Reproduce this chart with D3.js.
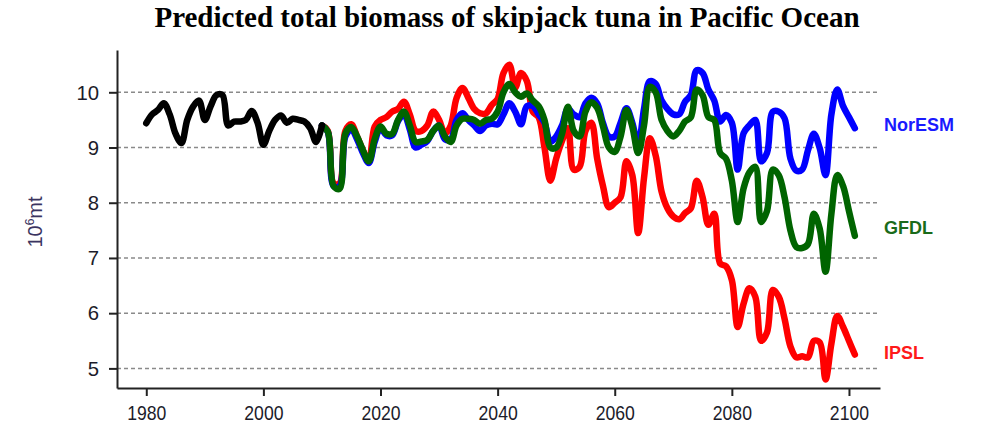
<!DOCTYPE html>
<html><head><meta charset="utf-8">
<script src="https://cdn.jsdelivr.net/npm/d3@7"></script>
<style>body{margin:0;background:#fff;} svg{display:block;}</style>
</head><body><svg id="chart" width="982" height="434"></svg>
<script>
// ---- data ----
const histYears = d3.range(1980, 2011);
const histValues = [9.44,9.6,9.68,9.8,9.6,9.25,9.08,9.5,9.74,9.85,
  9.5,9.75,9.95,9.95,9.4,9.47,9.47,9.5,9.66,9.45,
  9.05,9.3,9.5,9.58,9.45,9.52,9.5,9.47,9.35,9.1,9.4];
const projYears = d3.range(2010, 2102);
const norESM = [9.4,9.28,8.3,8.3,9.2,9.33,9.15,8.9,8.72,9.1,
  9.35,9.22,9.22,9.48,9.6,9.33,9.0,9.05,9.12,9.3,
  9.4,9.15,9.15,9.5,9.62,9.5,9.4,9.3,9.4,9.43,
  9.42,9.6,9.8,9.65,9.42,9.75,9.75,9.6,9.45,9.1,
  9.2,9.4,9.7,9.6,9.55,9.8,9.9,9.8,9.44,9.2,
  9.2,9.45,9.71,9.45,9.05,9.7,10.2,10.15,9.85,9.7,
  9.6,9.6,9.83,9.95,10.4,10.35,10.05,9.85,9.47,9.59,
  9.45,8.6,9.26,9.4,9.5,8.75,8.9,9.65,9.65,9.53,
  8.8,8.58,8.6,8.95,9.25,8.99,8.5,9.6,10.05,9.75,
  9.55,9.35];
const gfdl = [9.4,9.29,8.3,8.25,9.25,9.37,9.2,8.95,8.75,9.15,
  9.38,9.25,9.25,9.5,9.65,9.4,9.1,9.11,9.14,9.3,
  9.4,9.2,9.1,9.4,9.52,9.52,9.5,9.43,9.5,9.52,
  9.65,10.0,10.15,10.0,9.92,9.98,9.85,9.75,9.5,9.0,
  9.0,9.25,9.74,9.3,9.2,9.65,9.82,9.72,9.38,9.0,
  8.92,9.2,9.68,9.38,8.9,9.4,10.1,10.0,9.5,9.3,
  9.2,9.3,9.47,9.55,10.05,9.95,9.55,9.5,8.9,8.8,
  8.4,7.65,8.26,8.55,8.65,7.65,7.85,8.6,8.5,8.1,
  7.5,7.2,7.18,7.25,7.8,7.53,6.75,7.8,8.5,8.3,
  7.85,7.4];
const ipsl = [9.4,9.3,8.35,8.35,9.3,9.42,9.2,8.95,8.75,9.38,
  9.5,9.55,9.65,9.7,9.83,9.6,9.3,9.3,9.4,9.65,
  9.5,9.25,9.4,9.9,10.08,9.9,9.7,9.62,9.62,9.77,
  9.88,10.35,10.5,10.08,10.35,10.2,9.65,9.55,9.0,8.4,
  8.8,9.12,9.35,8.6,8.65,9.3,9.45,8.8,8.3,7.92,
  8.0,8.1,8.75,8.5,7.45,8.45,9.17,8.85,8.2,7.9,
  7.75,7.7,7.81,7.9,8.4,8.1,7.6,7.8,6.9,6.85,
  6.6,5.75,6.17,6.45,6.3,5.5,5.65,6.42,6.3,5.9,
  5.4,5.2,5.22,5.2,5.5,5.47,4.8,5.45,5.95,5.75,
  5.5,5.25];
const seriesNames = ["IPSL", "NorESM", "GFDL"];
const seriesValues = [ipsl, norESM, gfdl];
const seriesColors = ["#ff0000", "#0000ff", "#006400"];
const labelColors = {NorESM: "#1a1aff", GFDL: "#1a6b1a", IPSL: "#ff1a1a"};
const labelValues = {NorESM: 9.42, GFDL: 7.55, IPSL: 5.28};
const xTicks = [1980, 2000, 2020, 2040, 2060, 2080, 2100];
const yTicks = [5, 6, 7, 8, 9, 10];
const titleText = "Predicted total biomass of skipjack tuna in Pacific Ocean";

// ---- layout ----
const svg = d3.select("#chart");
const mLeft = 117, mRight = 880, mTop = 50, mBottom = 388;
const x = d3.scaleLinear().domain([1975, 2105.3]).range([mLeft, mRight]);
const y = d3.scaleLinear().domain([4.645, 10.766]).range([mBottom, mTop]);

// gridlines
svg.append("g").selectAll("line").data(yTicks).join("line")
  .attr("x1", mLeft).attr("x2", mRight)
  .attr("y1", d => y(d)).attr("y2", d => y(d))
  .attr("stroke", "#8a8a8a").attr("stroke-width", 1.5)
  .attr("stroke-dasharray", "4,3");

// lines
const line = d3.line().curve(d3.curveCatmullRom.alpha(0.5))
  .x(d => x(d[0])).y(d => y(d[1]));
seriesValues.forEach((vals, i) => {
  svg.append("path")
    .datum(projYears.map((yr, j) => [yr, vals[j]]))
    .attr("d", line)
    .attr("fill", "none").attr("stroke", seriesColors[i])
    .attr("stroke-width", 6.5).attr("stroke-linejoin", "round").attr("stroke-linecap", "round");
});
svg.append("path")
  .datum(histYears.map((yr, j) => [yr, histValues[j]]))
  .attr("d", line)
  .attr("fill", "none").attr("stroke", "#000")
  .attr("stroke-width", 6.5).attr("stroke-linejoin", "round").attr("stroke-linecap", "round");

// axes
const fontFam = "'Liberation Sans', Arial, sans-serif";
const xAxis = svg.append("g").attr("transform", `translate(0,${mBottom})`)
  .call(d3.axisBottom(x).tickValues(xTicks).tickFormat(d3.format("d"))
    .tickSize(8).tickSizeOuter(0).tickPadding(9));
const yAxis = svg.append("g").attr("transform", `translate(${mLeft},0)`)
  .call(d3.axisLeft(y).tickValues(yTicks).tickFormat(d3.format("d"))
    .tickSize(8).tickSizeOuter(0).tickPadding(10));
[xAxis, yAxis].forEach(g => {
  g.select(".domain").attr("stroke", "#222").attr("stroke-width", 2);
  g.selectAll(".tick line").attr("stroke", "#222").attr("stroke-width", 2);
  g.selectAll(".tick text").attr("fill", "#1c1c2a")
    .style("font-family", fontFam).style("font-size", "21px");
});
xAxis.selectAll(".tick text")
  .attr("textLength", d => String(d).length * 9.8).attr("lengthAdjust", "spacingAndGlyphs");
yAxis.selectAll(".tick text")
  .attr("textLength", d => String(d).length * 11.3).attr("lengthAdjust", "spacingAndGlyphs");

// y label
const yl = svg.append("text")
  .attr("transform", "translate(42,222) rotate(-90)")
  .attr("text-anchor", "middle")
  .attr("fill", "#3a3460")
  .style("font-family", fontFam).style("font-size", "20px");
yl.append("tspan").text("10");
yl.append("tspan").attr("dy", -8).style("font-size", "12px").text("6");
yl.append("tspan").attr("dy", 8).text("mt");

// title
svg.append("text").attr("x", 507).attr("y", 27).attr("text-anchor", "middle")
  .style("font-family", "'Liberation Serif', 'Times New Roman', serif")
  .style("font-weight", "bold").style("font-size", "29px").attr("fill", "#000")
  .text(titleText);

// series labels
["NorESM", "GFDL", "IPSL"].forEach(n => {
  svg.append("text").attr("x", 884).attr("y", y(labelValues[n]))
    .attr("dy", "0.36em")
    .attr("fill", labelColors[n])
    .style("font-family", fontFam).style("font-weight", "bold").style("font-size", "18px")
    .text(n);
});
</script>
</body></html>
